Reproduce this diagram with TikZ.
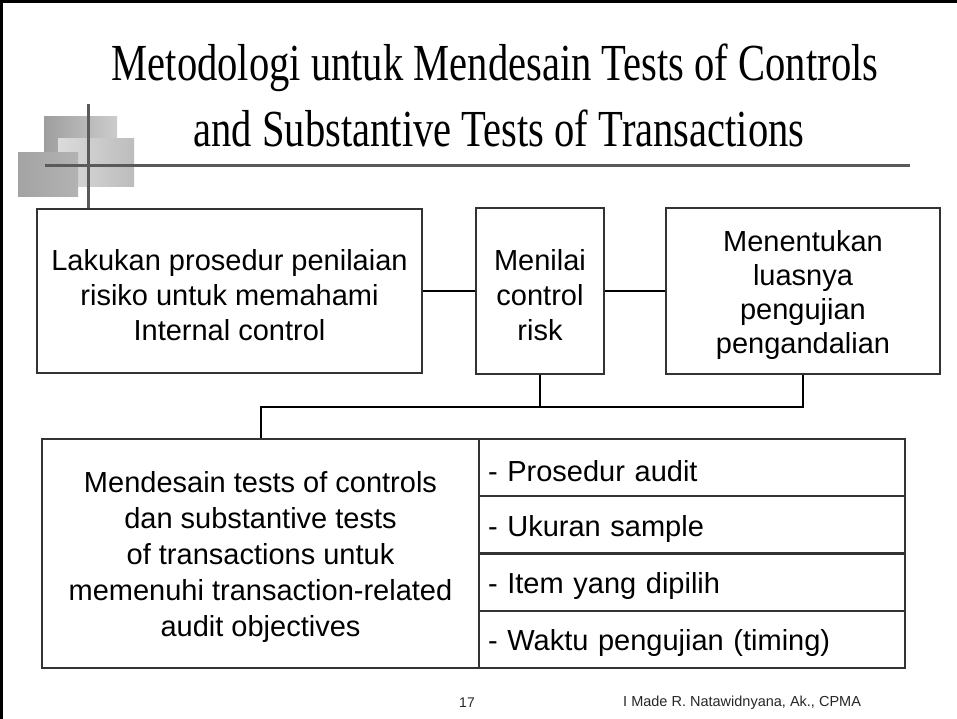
\documentclass[tikz,border=0pt]{standalone}
\usepackage{fontspec}
\usepackage{graphicx}
\setmainfont{Liberation Sans}
\newfontfamily\titleserif{Liberation Serif}

\definecolor{boxgray}{HTML}{333333}
\definecolor{rulegray}{HTML}{5A5A5A}

% taller first line, so the text block sits a little low in its box
\newcommand\padtop{\rule{0pt}{29pt}}

\begin{document}
\begin{tikzpicture}[x=1pt,y=-1pt,
  box/.style={draw=boxgray, line width=2pt, align=center, inner sep=0pt,
              font=\fontsize{29}{35}\selectfont},
  cell/.style={draw=boxgray, line width=2pt, minimum width=426pt, minimum height=57.25pt,
               text width=408pt, align=left, inner xsep=9pt, inner ysep=0pt,
               font=\fontsize{29}{35}\selectfont},
  link/.style={black, line width=2pt},
  titleline/.style={anchor=base, inner sep=0pt, font=\titleserif\fontsize{52}{66}\selectfont},
  footer/.style={inner sep=0pt, text=black!85, font=\fontsize{14}{16}\selectfont},
]
\useasboundingbox (0,0) rectangle (957,719);

% slide frame (left and top edges)
\draw[black, line width=3pt] (1.5,719) -- (1.5,1.5) -- (957,1.5);

% title
\node[titleline] (t1) at (495,81) {\scalebox{0.78}[1]{Metodologi untuk Mendesain Tests of Controls}};
\node[titleline] (t2) at (499,147) {\scalebox{0.78}[1]{and Substantive Tests of Transactions}};

% corner ornament: overlapping shaded squares and cross rules
\shade[left color=black!38, right color=black!20] (44,117) rectangle (117,178);
\shade[left color=black!14, right color=black!26] (58,139) rectangle (134,187);
\shade[left color=black!36, right color=black!30] (18,153) rectangle (78,197);
\draw[rulegray, line width=3pt] (88,104) -- (88,208);
\draw[rulegray, line width=3pt] (45,166) -- (910,166);

% top row of steps
\node[box, minimum width=385pt, minimum height=164pt] (b1) at (229.5,291)
  {\padtop Lakukan prosedur penilaian\\risiko untuk memahami\\Internal control};
\node[box, minimum width=128pt, minimum height=165pt] (b2) at (540,291)
  {\padtop Menilai\\control\\risk};
\node[box, minimum width=274pt, minimum height=165pt, font=\fontsize{29}{34}\selectfont] (b3) at (803,291)
  {\padtop Menentukan\\luasnya\\pengujian\\pengandalian};

% design step and its components
\node[box, minimum width=437pt, minimum height=229pt, font=\fontsize{29}{36}\selectfont] (b4) at (260.5,553.5)
  {\padtop Mendesain tests of controls\\dan substantive tests\\of transactions untuk\\memenuhi transaction-related\\audit objectives};
\node[cell] (c1) at (692,467.6) {\padtop - Prosedur audit};
\node[cell] (c2) at (692,524.9) {\padtop - Ukuran sample};
\node[cell] (c3) at (692,582.1) {\padtop - Item yang dipilih};
\node[cell] (c4) at (692,639.4) {\padtop - Waktu pengujian (timing)};

% connectors
\coordinate (bus) at (260.5,407);
\draw[link] (b1) -- (b2);
\draw[link] (b2) -- (b3);
\draw[link] (b3.south) |- (bus) -- (b4.north);
\draw[link] (b2.south) -- (b2.south |- bus);

% footer
\node[footer] (pg) at (467,703) {17};
\node[footer, anchor=west, font=\fontsize{14.5}{16}\selectfont] (au) at (623,703) {I Made R. Natawidnyana, Ak., CPMA};
\end{tikzpicture}
\end{document}
